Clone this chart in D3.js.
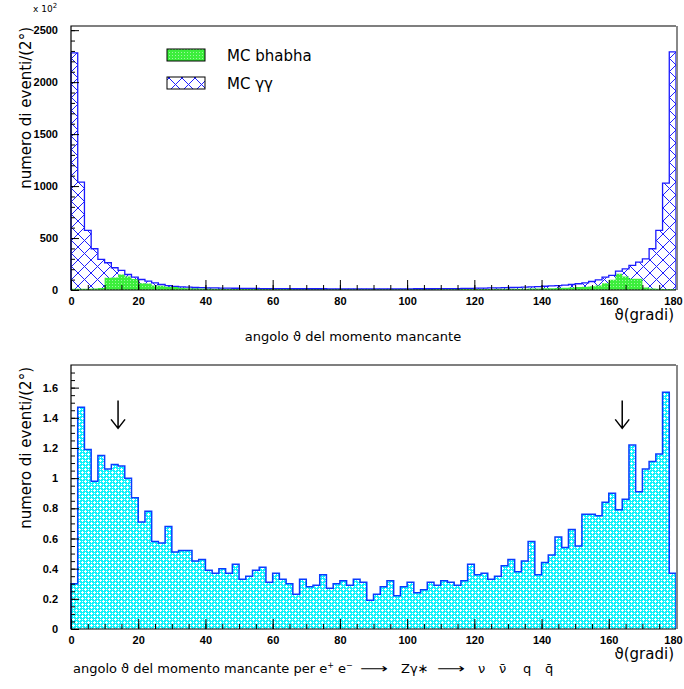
<!DOCTYPE html>
<html>
<head>
<meta charset="utf-8">
<script src="https://cdn.jsdelivr.net/npm/d3@7"></script>
<style>
	body { margin: 0; background: #fff; }
	svg { display: block; }
	.tick text { font-family: "Liberation Sans", Arial, sans-serif; font-size: 11px; font-weight: bold; fill: #000; }
	.lbl { font-family: "DejaVu Sans", sans-serif; fill: #000; }
</style>
</head>
<body>
<div id="chart"></div>
<script>
// bins of 2 degrees, 0..180
var binWidth = 2;

// MC gamma-gamma, units of 10^2 events / 2 deg
var ggCounts = [
	2281, 1038, 573, 397, 294, 262, 214, 188, 149, 123, 101, 85, 69, 53, 43, 34,
	30, 27, 24, 22, 21, 20, 19, 18, 17, 16, 15, 15, 14, 14, 13, 13, 13, 12, 12, 12,
	12, 12, 11, 11, 11, 11, 11, 11, 11, 11, 11, 11, 11, 11, 11, 12, 12, 12,
	13, 13, 14, 14, 15, 16, 18, 19, 20, 21, 22, 24, 26, 28, 30, 33, 36, 39,
	42, 47, 53, 60, 69, 82, 98, 123, 140, 181, 204, 236, 268, 300, 397, 573, 1029, 2291
];

// MC bhabha
var bhabhaCounts = [
	12, 12, 12, 15, 20, 117, 120, 149, 130, 105, 66, 62, 43, 40, 32, 28, 22, 18,
	16, 15, 14, 13, 12, 12, 11, 11, 10, 10, 10, 10, 9, 9, 9, 9, 9, 9,
	9, 9, 9, 9, 9, 9, 9, 9, 9, 9, 9, 9, 9, 9, 9, 9, 9, 9,
	9, 9, 9, 9, 9, 10, 10, 10, 10, 11, 11, 12, 12, 13, 14, 15, 16, 18,
	20, 22, 25, 28, 32, 36, 43, 66, 98, 156, 130, 108, 108, 25, 15, 12, 10, 10
];

// data, e+e- -> Z gamma* -> nu nubar q qbar
var dataCounts = [
	0.30, 1.47, 1.19, 0.98, 1.15, 1.06, 1.09, 1.08, 1.00, 0.87,
	0.71, 0.78, 0.58, 0.57, 0.68, 0.51, 0.52, 0.52, 0.45, 0.46,
	0.39, 0.37, 0.40, 0.37, 0.43, 0.33, 0.35, 0.39, 0.41, 0.31,
	0.37, 0.33, 0.30, 0.23, 0.33, 0.28, 0.29, 0.36, 0.27, 0.30,
	0.32, 0.29, 0.33, 0.31, 0.19, 0.23, 0.28, 0.32, 0.22, 0.28,
	0.31, 0.24, 0.26, 0.31, 0.29, 0.32, 0.31, 0.29, 0.32, 0.43,
	0.36, 0.37, 0.33, 0.35, 0.42, 0.46, 0.38, 0.45, 0.58, 0.36,
	0.44, 0.49, 0.61, 0.54, 0.66, 0.55, 0.76, 0.76, 0.75, 0.84,
	0.90, 0.79, 0.86, 1.22, 0.91, 1.06, 1.11, 1.16, 1.57, 0.37
];

var xTicks = [0, 20, 40, 60, 80, 100, 120, 140, 160, 180];
var topYTicks = [0, 500, 1000, 1500, 2000, 2500];
var botYTicks = [0, 0.2, 0.4, 0.6, 0.8, 1, 1.2, 1.4, 1.6];
var arrowAngles = [14, 164];
var legendNames = ["MC bhabha", "MC \u03b3\u03b3"];

var W = 684, H = 689;
var svg = d3.select("#chart").append("svg")
	.attr("width", W)
	.attr("height", H);

var defs = svg.append("defs");

// blue cross hatch
var ph = defs.append("pattern")
	.attr("id", "hatchBlue")
	.attr("patternUnits", "userSpaceOnUse")
	.attr("width", 13).attr("height", 13);
ph.append("path")
	.attr("d", "M0,0 L13,13 M13,0 L0,13")
	.attr("stroke", "#1f1fff")
	.attr("stroke-width", 1)
	.attr("fill", "none");

// green stipple
var pg = defs.append("pattern")
	.attr("id", "dotsGreen")
	.attr("patternUnits", "userSpaceOnUse")
	.attr("width", 3).attr("height", 3);
pg.append("rect").attr("width", 3).attr("height", 3).attr("fill", "#3cee3c");
pg.append("rect").attr("x", 1).attr("y", 1).attr("width", 1).attr("height", 1).attr("fill", "#9ff59f");

// cyan crosses (white plus marks on cyan)
var pc = defs.append("pattern")
	.attr("id", "crossCyan")
	.attr("patternUnits", "userSpaceOnUse")
	.attr("width", 6).attr("height", 6);
pc.append("rect").attr("width", 6).attr("height", 6).attr("fill", "#10f2fa");
[[1, 1], [4, 4]].forEach(function(c) {
	pc.append("rect").attr("x", c[0] - 1).attr("y", c[1]).attr("width", 3).attr("height", 1).attr("fill", "#fff");
	pc.append("rect").attr("x", c[0]).attr("y", c[1] - 1).attr("width", 1).attr("height", 3).attr("fill", "#fff");
});
[[4, 1], [1, 4]].forEach(function(c) {
	pc.append("rect").attr("x", c[0]).attr("y", c[1]).attr("width", 1).attr("height", 1).attr("fill", "#fff");
});

function stepPoints(values) {
	var pts = values.map(function(v, i) { return { a: i * binWidth, v: v }; });
	pts.push({ a: values.length * binWidth, v: values[values.length - 1] });
	return pts;
}

function outlinePoints(values) {
	var pts = [{ a: 0, v: 0 }].concat(stepPoints(values));
	pts.push({ a: values.length * binWidth, v: 0 });
	return pts;
}

function drawPanel(box, yMax, yMajor, yMinorStep, yFmt) {
	var g = svg.append("g");
	var x = d3.scaleLinear().domain([0, 180]).range([box.x0, box.x1]);
	var y = d3.scaleLinear().domain([0, yMax]).range([box.y1, box.y0]);

	var marks = g.append("g");

	// minor ticks
	g.append("g")
		.attr("transform", "translate(0," + box.y1 + ")")
		.call(d3.axisBottom(x).tickValues(d3.range(0, 181, 5)).tickSize(-5).tickFormat(""))
		.call(function(s) { s.select(".domain").remove(); });
	g.append("g")
		.attr("transform", "translate(" + box.x0 + ",0)")
		.call(d3.axisLeft(y).tickValues(d3.range(0, yMax, yMinorStep)).tickSize(-4).tickFormat(""))
		.call(function(s) { s.select(".domain").remove(); });

	// major ticks and labels
	g.append("g")
		.attr("transform", "translate(0," + box.y1 + ")")
		.call(d3.axisBottom(x).tickValues(xTicks).tickSize(-10).tickPadding(7))
		.call(function(s) {
			s.select(".domain").remove();
			s.selectAll(".tick text").filter(function(d) { return d === 180; }).attr("dx", -3);
		});
	g.append("g")
		.attr("transform", "translate(" + box.x0 + ",0)")
		.call(d3.axisLeft(y).tickValues(yMajor).tickSize(-8).tickPadding(13).tickFormat(yFmt))
		.call(function(s) { s.select(".domain").remove(); });

	g.selectAll(".tick line").attr("stroke", "#000");

	return { g: g, marks: marks, x: x, y: y };
}

function frame(box) {
	svg.append("path")
		.attr("d", "M" + box.x1 + "," + box.y0 + " H" + box.x0 + " V" + box.y1 + " H" + box.x1)
		.attr("fill", "none")
		.attr("stroke", "#000")
		.attr("stroke-width", 1.2);
	svg.append("line")
		.attr("x1", box.x1 + 1).attr("x2", box.x1 + 1)
		.attr("y1", box.y0).attr("y2", box.y1)
		.attr("stroke", "#888")
		.attr("stroke-width", 2);
}

// ---------- top panel ----------
var topBox = { x0: 71, x1: 676, y0: 26, y1: 290 };
var topP = drawPanel(topBox, 2540, topYTicks, 100, d3.format("d"));

var areaTop = d3.area().curve(d3.curveStepAfter)
	.x(function(d) { return topP.x(d.a); })
	.y0(topP.y(0))
	.y1(function(d) { return topP.y(d.v); });
var lineTop = d3.line().curve(d3.curveStepAfter)
	.x(function(d) { return topP.x(d.a); })
	.y(function(d) { return topP.y(d.v); });

topP.marks.append("path")
	.attr("d", areaTop(stepPoints(ggCounts)))
	.attr("fill", "url(#hatchBlue)");
topP.marks.append("path")
	.attr("d", areaTop(stepPoints(bhabhaCounts)))
	.attr("fill", "url(#dotsGreen)");
topP.marks.append("path")
	.attr("d", lineTop(outlinePoints(ggCounts)))
	.attr("fill", "none")
	.attr("stroke", "#1a1aff")
	.attr("stroke-width", 1.3);

frame(topBox);

svg.append("text").attr("class", "lbl")
	.attr("x", 33).attr("y", 12)
	.attr("font-size", 9)
	.text("x 10")
	.append("tspan").attr("dy", -4).attr("font-size", 7).text("2");

// legend
var legendFills = ["url(#dotsGreen)", "url(#hatchBlue)"];
legendNames.forEach(function(name, i) {
	var ly = 49 + i * 28;
	svg.append("rect")
		.attr("x", 167).attr("y", ly)
		.attr("width", 38).attr("height", 12)
		.attr("fill", legendFills[i])
		.attr("stroke", "#000").attr("stroke-width", 1);
	svg.append("text").attr("class", "lbl")
		.attr("x", 227).attr("y", ly + 12)
		.attr("font-size", 15)
		.text(name);
});

svg.append("text").attr("class", "lbl")
	.attr("transform", "translate(31,27) rotate(-90)")
	.attr("text-anchor", "end")
	.attr("font-size", 15)
	.text("numero di eventi/(2\u00b0)");

svg.append("text").attr("class", "lbl")
	.attr("x", 674).attr("y", 320)
	.attr("text-anchor", "end")
	.attr("font-size", 15)
	.text("\u03d1(gradi)");

svg.append("text").attr("class", "lbl")
	.attr("x", 353).attr("y", 341)
	.attr("text-anchor", "middle")
	.attr("font-size", 13)
	.text("angolo \u03d1 del momento mancante");

// ---------- bottom panel ----------
var botBox = { x0: 71, x1: 676, y0: 365, y1: 629 };
var botP = drawPanel(botBox, 1.75, botYTicks, 0.05, function(d) { return d3.format("~g")(d); });

var areaBot = d3.area().curve(d3.curveStepAfter)
	.x(function(d) { return botP.x(d.a); })
	.y0(botP.y(0))
	.y1(function(d) { return botP.y(d.v); });
var lineBot = d3.line().curve(d3.curveStepAfter)
	.x(function(d) { return botP.x(d.a); })
	.y(function(d) { return botP.y(d.v); });

botP.marks.append("path")
	.attr("d", areaBot(stepPoints(dataCounts)))
	.attr("fill", "url(#crossCyan)");
botP.marks.append("path")
	.attr("d", lineBot(outlinePoints(dataCounts)))
	.attr("fill", "none")
	.attr("stroke", "#0a3cff")
	.attr("stroke-width", 1.5);

// arrows
arrowAngles.forEach(function(a) {
	var ax = botP.x(a);
	var yTip = botP.y(1.33), yTail = botP.y(1.515);
	botP.g.append("path")
		.attr("d", "M" + ax + "," + yTail + " V" + yTip +
			" M" + (ax - 7) + "," + (yTip - 9) + " L" + ax + "," + yTip + " L" + (ax + 7) + "," + (yTip - 9))
		.attr("fill", "none")
		.attr("stroke", "#000")
		.attr("stroke-width", 1.5);
});

frame(botBox);

svg.append("text").attr("class", "lbl")
	.attr("transform", "translate(31,367) rotate(-90)")
	.attr("text-anchor", "end")
	.attr("font-size", 15)
	.text("numero di eventi/(2\u00b0)");

svg.append("text").attr("class", "lbl")
	.attr("x", 674).attr("y", 659)
	.attr("text-anchor", "end")
	.attr("font-size", 15)
	.text("\u03d1(gradi)");

var bt = svg.append("text").attr("class", "lbl")
	.attr("x", 73).attr("y", 673)
	.attr("font-size", 13);
bt.append("tspan").text("angolo \u03d1 del momento mancante per e");
bt.append("tspan").attr("dy", -5).attr("font-size", 8).text("+");
bt.append("tspan").attr("dy", 5).text(" e");
bt.append("tspan").attr("dy", -5).attr("font-size", 8).text("\u2212");
bt.append("tspan").attr("dy", 5).attr("x", 360).attr("textLength", 28).attr("lengthAdjust", "spacingAndGlyphs").text("\u27f6");
bt.append("tspan").attr("x", 401).text("Z\u03b3\u2217");
bt.append("tspan").attr("x", 437).attr("textLength", 28).attr("lengthAdjust", "spacingAndGlyphs").text("\u27f6");
bt.append("tspan").attr("x", 478).text("\u03bd");
bt.append("tspan").attr("x", 499).text("\u03bd\u0304");
bt.append("tspan").attr("x", 523).text("q");
bt.append("tspan").attr("x", 545).text("q\u0304");
</script>
</body>
</html>
